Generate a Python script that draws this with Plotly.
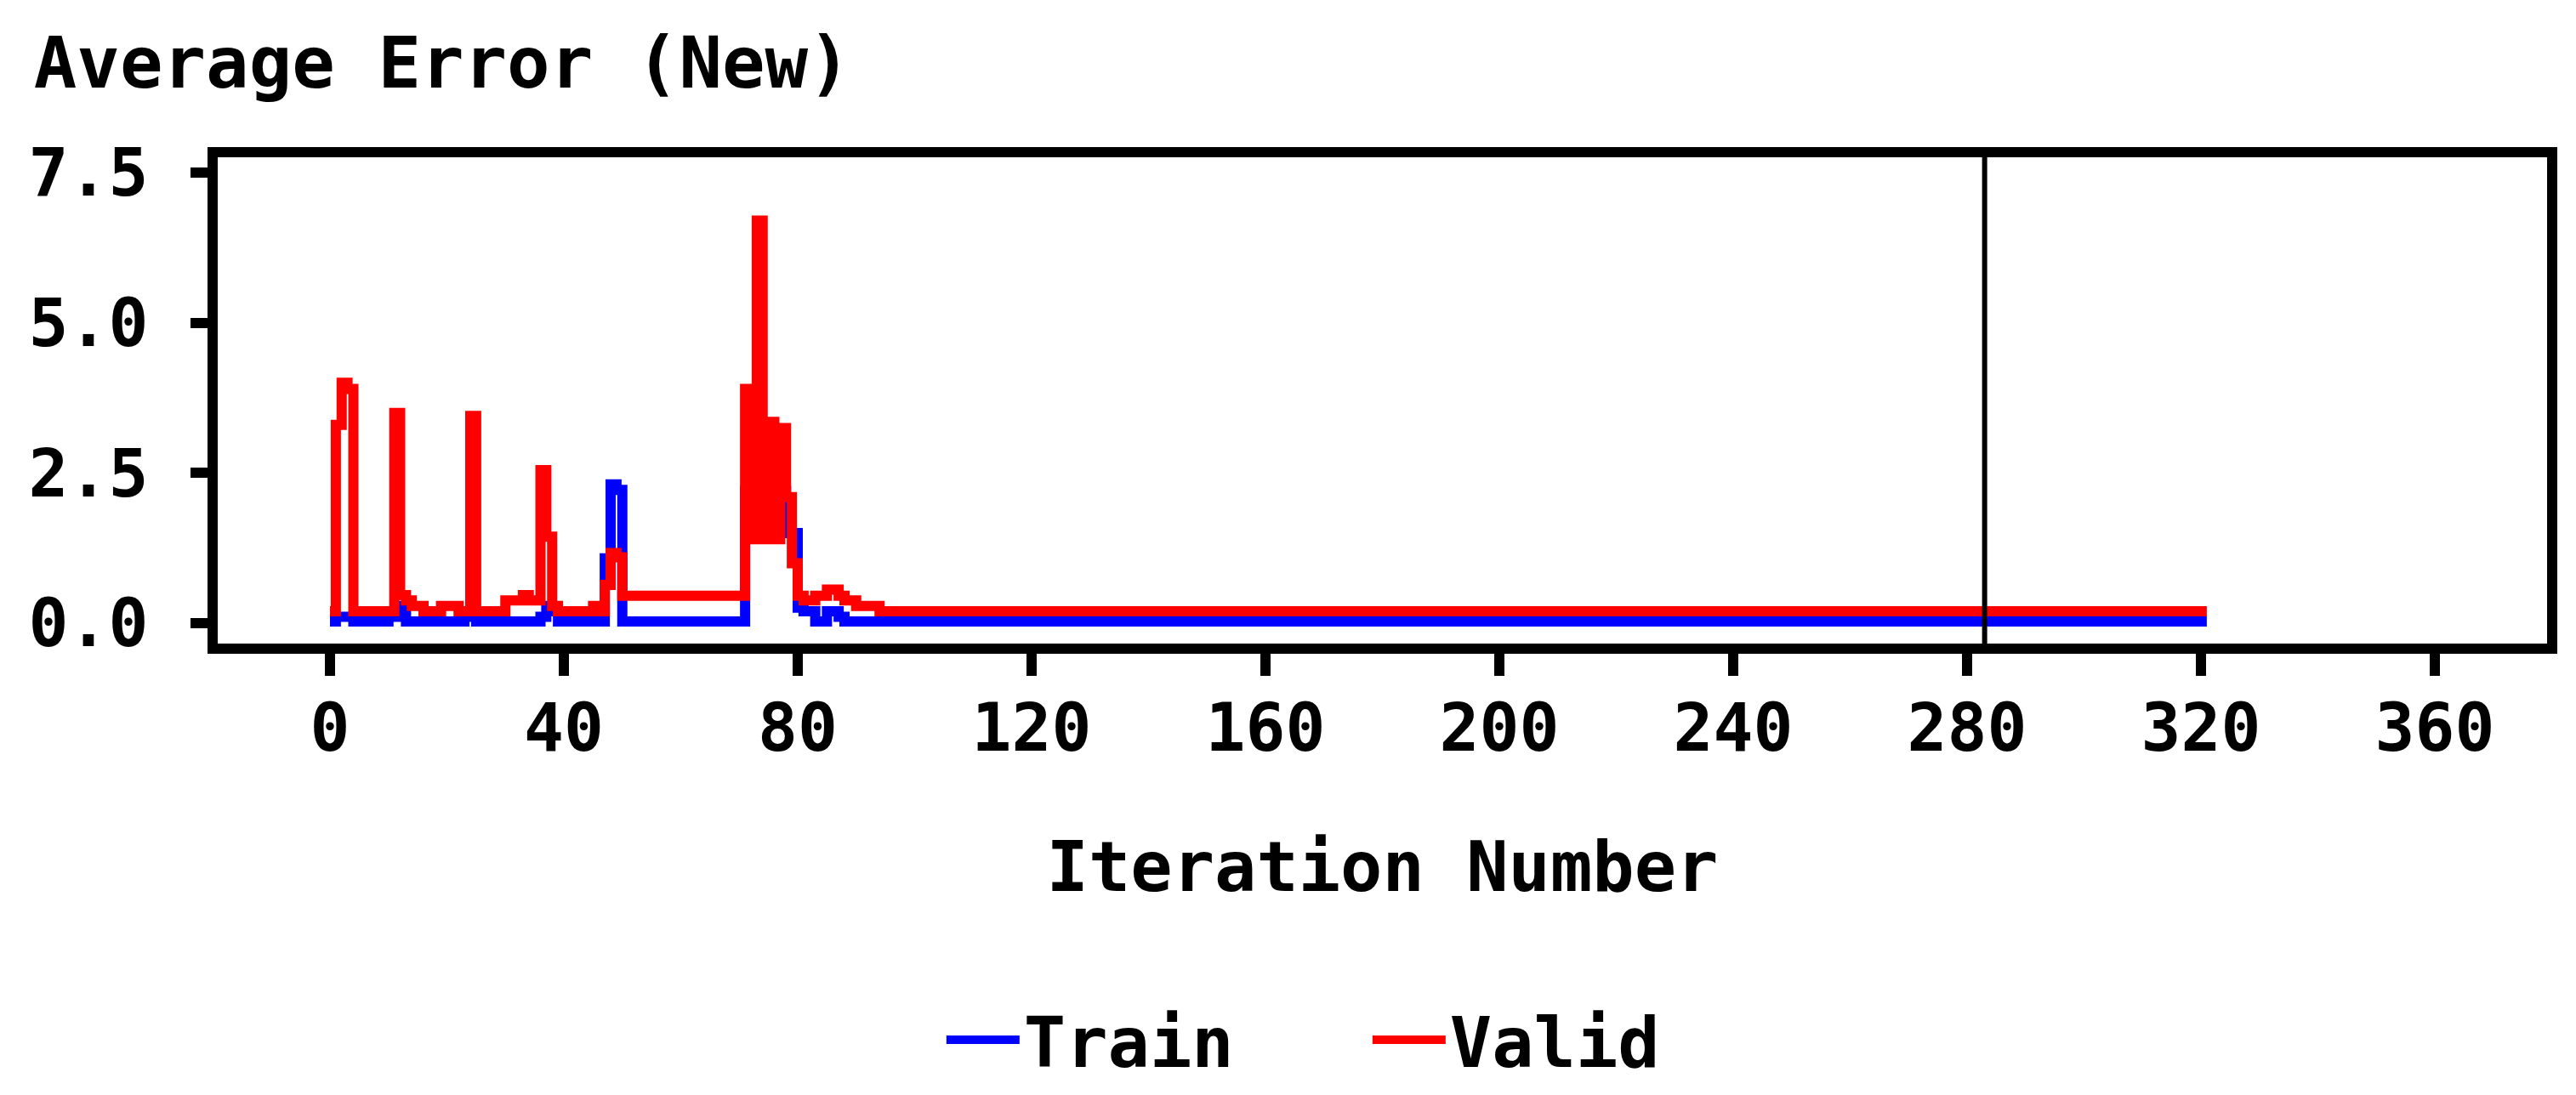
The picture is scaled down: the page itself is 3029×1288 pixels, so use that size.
import plotly.graph_objects as go

# iterations 0..94 read one by one, then the flat tail runs to the last iteration
iterations = [
    0, 1, 2, 3, 4, 5, 6, 7, 8, 9,
    10, 11, 12, 13, 14, 15, 16, 17, 18, 19,
    20, 21, 22, 23, 24, 25, 26, 27, 28, 29,
    30, 31, 32, 33, 34, 35, 36, 37, 38, 39,
    40, 41, 42, 43, 44, 45, 46, 47, 48, 49,
    50, 51, 52, 53, 54, 55, 56, 57, 58, 59,
    60, 61, 62, 63, 64, 65, 66, 67, 68, 69,
    70, 71, 72, 73, 74, 75, 76, 77, 78, 79,
    80, 81, 82, 83, 84, 85, 86, 87, 88, 89,
    90, 91, 92, 93, 94, 321,
]

train_error = [
    0.03, 0.11, 0.11, 0.11, 0.03, 0.03, 0.03, 0.03, 0.03, 0.03,
    0.11, 0.11, 0.29, 0.03, 0.03, 0.03, 0.03, 0.03, 0.03, 0.03,
    0.03, 0.03, 0.03, 0.11, 0.11, 0.03, 0.03, 0.03, 0.03, 0.03,
    0.03, 0.03, 0.03, 0.03, 0.03, 0.03, 0.11, 0.29, 0.20, 0.03,
    0.03, 0.03, 0.03, 0.03, 0.03, 0.03, 0.03, 1.08, 2.31, 2.22,
    0.03, 0.03, 0.03, 0.03, 0.03, 0.03, 0.03, 0.03, 0.03, 0.03,
    0.03, 0.03, 0.03, 0.03, 0.03, 0.03, 0.03, 0.03, 0.03, 0.03,
    0.03, 2.20, 1.80, 3.00, 1.80, 2.40, 1.60, 2.20, 1.50, 1.50,
    0.26, 0.20, 0.20, 0.03, 0.03, 0.20, 0.20, 0.11, 0.03, 0.03,
    0.03, 0.03, 0.03, 0.03, 0.03, 0.03,
]

valid_error = [
    0.20, 3.30, 4.00, 3.90, 0.20, 0.20, 0.20, 0.20, 0.20, 0.20,
    0.20, 3.50, 0.47, 0.38, 0.29, 0.29, 0.20, 0.20, 0.20, 0.29,
    0.29, 0.29, 0.20, 0.20, 3.45, 0.20, 0.20, 0.20, 0.20, 0.20,
    0.38, 0.38, 0.38, 0.47, 0.38, 0.38, 2.55, 1.44, 0.29, 0.20,
    0.20, 0.20, 0.20, 0.20, 0.20, 0.29, 0.20, 0.64, 1.17, 1.10,
    0.46, 0.46, 0.46, 0.46, 0.46, 0.46, 0.46, 0.46, 0.46, 0.46,
    0.46, 0.46, 0.46, 0.46, 0.46, 0.46, 0.46, 0.46, 0.46, 0.46,
    0.46, 3.90, 1.40, 6.70, 1.40, 3.35, 1.40, 3.25, 2.10, 1.00,
    0.46, 0.38, 0.38, 0.46, 0.46, 0.56, 0.56, 0.46, 0.38, 0.38,
    0.29, 0.29, 0.29, 0.29, 0.20, 0.20,
]

selected_iteration = 283

x_ticks = [0, 40, 80, 120, 160, 200, 240, 280, 320, 360]
y_ticks = [0, 2.5, 5.0, 7.5]
y_tick_labels = ["0.0", "2.5", "5.0", "7.5"]

FONT = "DejaVu Sans Mono"
text_font = dict(family=FONT, size=82, color="black", weight="bold")
tick_font = dict(family=FONT, size=78, color="black", weight="bold")

fig = go.Figure()

fig.add_trace(go.Scatter(
    x=iterations, y=train_error, name="Train", mode="lines",
    line=dict(color="#0000FF", width=12, shape="hv"),
))
fig.add_trace(go.Scatter(
    x=iterations, y=valid_error, name="Valid", mode="lines",
    line=dict(color="#FF0000", width=12, shape="hv"),
))

fig.add_vline(x=selected_iteration, line_width=6, line_color="black")

fig.update_layout(
    width=3029, height=1288,
    margin=dict(l=248, r=42, t=177, b=535),
    paper_bgcolor="white", plot_bgcolor="white",
    font=text_font,
    title=dict(
        text="Average Error (New)",
        x=0.0105, xref="container", xanchor="left",
        y=0.972, yref="container", yanchor="top",
        font=dict(family=FONT, size=84, color="black", weight="bold"),
    ),
    showlegend=True,
    legend=dict(
        orientation="h", x=0.311, xanchor="left", y=-0.815, yanchor="middle",
        font=text_font, itemwidth=86,
        entrywidth=400, entrywidthmode="pixels",
    ),
)

fig.update_xaxes(
    range=[-19.2, 379.2], tickmode="array", tickvals=x_ticks,
    showgrid=False, zeroline=False, automargin=False,
    showline=True, linewidth=12, linecolor="black", mirror=True,
    ticks="outside", ticklen=26, tickwidth=12, tickcolor="black",
    tickfont=tick_font, ticklabelstandoff=-6,
    title=dict(text="Iteration Number", standoff=96, font=text_font),
)

fig.update_yaxes(
    range=[-0.337, 7.753], tickmode="array", tickvals=y_ticks, ticktext=y_tick_labels,
    showgrid=False, zeroline=False, automargin=False,
    showline=True, linewidth=12, linecolor="black", mirror=True,
    ticks="outside", ticklen=20, tickwidth=12, tickcolor="black",
    tickfont=tick_font, ticklabelstandoff=34,
)

fig.write_html("out.html")
